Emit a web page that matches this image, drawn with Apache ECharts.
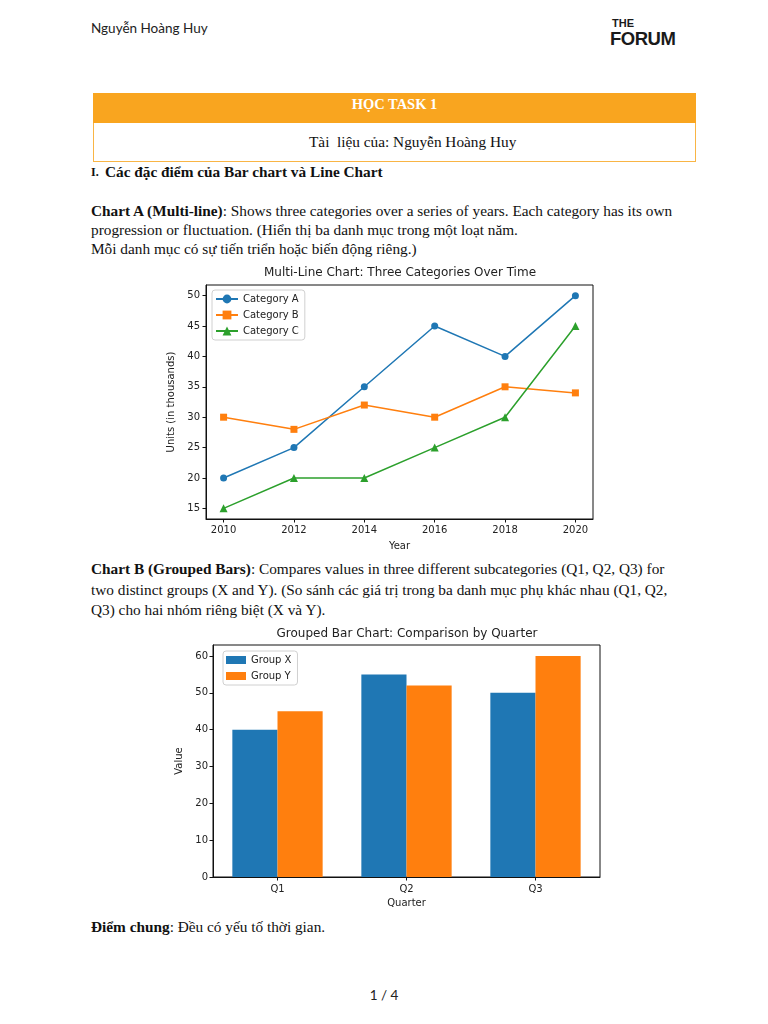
<!DOCTYPE html>
<html><head><meta charset="utf-8">
<script src="https://cdn.jsdelivr.net/npm/echarts@6/dist/echarts.min.js"></script>
<style>
body{margin:0;width:768px;height:1024px;background:#fff;position:relative;overflow:hidden}
.t{position:absolute;white-space:nowrap;font-family:"Liberation Serif","Times New Roman",serif;font-size:15.3px;line-height:20px;color:#111}
.c{position:absolute}
</style></head><body>
<div class="t" style="left:91px;top:18px;font-family:Lato,'Liberation Sans',sans-serif;font-size:13.5px;color:#222">Nguyễn Hoàng Huy</div>
<div class="t" style="left:612px;top:16px;font-family:'Liberation Sans',sans-serif;font-weight:bold;font-size:11px;line-height:14px;color:#1a1a1a">THE</div>
<div class="t" style="left:610px;top:28px;font-family:'Liberation Sans',sans-serif;font-weight:900;font-size:18.5px;line-height:22px;letter-spacing:-0.5px;color:#1a1a1a">FORUM</div>
<div style="position:absolute;left:93px;top:93px;width:603px;height:30px;background:#F9A51F"></div>
<div style="position:absolute;left:93px;top:123px;width:603px;height:39px;box-sizing:border-box;border:1px solid #F9B545;border-top:none"></div>
<div class="t" style="left:93px;width:603px;text-align:center;top:94px;color:#fff;font-weight:bold;font-size:14.5px">HỌC TASK 1</div>
<div class="t" style="left:309px;top:132px">Tài&nbsp; liệu của: Nguyễn Hoàng Huy</div>
<div class="t" style="left:91px;top:162px;font-weight:bold;font-size:12px">I.</div>
<div class="t" style="left:105px;top:162px;font-weight:bold">Các đặc điểm của Bar chart và Line Chart</div>
<div class="t" style="left:91px;top:201px"><b>Chart A (Multi-line)</b>: Shows three categories over a series of years. Each category has its own</div>
<div class="t" style="left:91px;top:220px">progression or fluctuation. (Hiển thị ba danh mục trong một loạt năm.</div>
<div class="t" style="left:91px;top:239px">Mỗi danh mục có sự tiến triển hoặc biến động riêng.)</div>
<div class="t" style="left:91px;top:559px"><b>Chart B (Grouped Bars)</b>: Compares values in three different subcategories (Q1, Q2, Q3) for</div>
<div class="t" style="left:91px;top:580px">two distinct groups (X and Y). (So sánh các giá trị trong ba danh mục phụ khác nhau (Q1, Q2,</div>
<div class="t" style="left:91px;top:600px">Q3) cho hai nhóm riêng biệt (X và Y).</div>
<div class="t" style="left:91px;top:917px"><b>Điểm chung</b>: Đều có yếu tố thời gian.</div>
<div class="t" style="left:0;width:768px;text-align:center;top:985px;font-family:Lato,'Liberation Sans',sans-serif;font-size:13.5px;color:#222">1 / 4</div>
<div id="chartA" class="c" style="left:150px;top:260px;width:500px;height:300px"></div>
<div id="chartB" class="c" style="left:157px;top:620px;width:500px;height:300px"></div>
<script>
const years = [2010, 2012, 2014, 2016, 2018, 2020];
const categoryA = [20, 25, 35, 45, 40, 50];
const categoryB = [30, 28, 32, 30, 35, 34];
const categoryC = [15, 20, 20, 25, 30, 45];
const yTicksA = [15, 20, 25, 30, 35, 40, 45, 50];

const quarters = ['Q1', 'Q2', 'Q3'];
const groupX = [40, 55, 50];
const groupY = [45, 52, 60];
const yTicksB = [0, 10, 20, 30, 40, 50, 60];

const FONT = 'DejaVu Sans';
const TXT = '#222';
const axisLine = { show: true, lineStyle: { color: '#111', width: 1 } };
const tick = (vals) => ({ show: true, length: 3.5, lineStyle: { color: '#111' }, customValues: vals });
const lbl = (vals, m) => ({ fontFamily: FONT, fontSize: 10, color: TXT, margin: m, customValues: vals,
  formatter: (v) => String(v) });
const legendBase = {
  orient: 'vertical', backgroundColor: 'rgba(255,255,255,0.9)', borderColor: '#d0d0d0',
  borderWidth: 1, borderRadius: 3, itemGap: 5,
  textStyle: { fontFamily: FONT, fontSize: 10, color: TXT }
};

const chartA = echarts.init(document.getElementById('chartA'), null, { renderer: 'canvas' });
const pts = (arr) => years.map((y, i) => [y, arr[i]]);
chartA.setOption({
  animation: false,
  title: { text: 'Multi-Line Chart: Three Categories Over Time', left: 'center', top: 7, padding: 0,
    textStyle: { fontFamily: FONT, fontSize: 12, fontWeight: 'normal', color: TXT } },
  grid: { left: 56, top: 25, width: 387, height: 234, show: true, borderColor: '#111', borderWidth: 1 },
  xAxis: { type: 'value', min: 2009.5, max: 2020.5, axisLine, axisTick: tick(years),
    axisLabel: lbl(years, 6), splitLine: { show: false },
    name: 'Year', nameLocation: 'middle', nameGap: 22,
    nameTextStyle: { fontFamily: FONT, fontSize: 10, color: TXT } },
  yAxis: { type: 'value', min: 13.25, max: 51.75, axisLine, axisTick: tick(yTicksA),
    axisLabel: lbl(yTicksA, 6), splitLine: { show: false },
    name: 'Units (in thousands)', nameLocation: 'middle', nameGap: 25, nameRotate: 90,
    nameTextStyle: { fontFamily: FONT, fontSize: 10, color: TXT } },
  legend: Object.assign({}, legendBase, { left: 62, top: 30, padding: [4, 6, 4, 3],
    itemWidth: 22, itemHeight: 11, itemGap: 6,
    data: ['Category A', 'Category B', 'Category C'] }),
  series: [
    { name: 'Category A', type: 'line', data: pts(categoryA), symbol: 'circle', symbolSize: 7,
      color: '#1f77b4', lineStyle: { width: 1.5 } },
    { name: 'Category B', type: 'line', data: pts(categoryB), symbol: 'rect', symbolSize: 7,
      color: '#ff7f0e', lineStyle: { width: 1.5 } },
    { name: 'Category C', type: 'line', data: pts(categoryC), symbol: 'triangle', symbolSize: 8,
      color: '#2ca02c', lineStyle: { width: 1.5 } }
  ]
});

const chartB = echarts.init(document.getElementById('chartB'), null, { renderer: 'canvas' });
chartB.setOption({
  animation: false,
  title: { text: 'Grouped Bar Chart: Comparison by Quarter', left: 'center', top: 8, padding: 0,
    textStyle: { fontFamily: FONT, fontSize: 12, fontWeight: 'normal', color: TXT } },
  grid: { left: 56, top: 25, width: 387, height: 232, show: true, borderColor: '#111', borderWidth: 1 },
  xAxis: { type: 'category', data: quarters, axisLine,
    axisTick: { show: true, alignWithLabel: true, length: 3.5, lineStyle: { color: '#111' } },
    axisLabel: { fontFamily: FONT, fontSize: 10, color: TXT, margin: 7 },
    name: 'Quarter', nameLocation: 'middle', nameGap: 20,
    nameTextStyle: { fontFamily: FONT, fontSize: 10, color: TXT } },
  yAxis: { type: 'value', min: 0, max: 63, axisLine, axisTick: tick(yTicksB),
    axisLabel: lbl(yTicksB, 5), splitLine: { show: false },
    name: 'Value', nameLocation: 'middle', nameGap: 22, nameRotate: 90,
    nameTextStyle: { fontFamily: FONT, fontSize: 10, color: TXT } },
  legend: Object.assign({}, legendBase, { left: 66, top: 31, padding: [4, 6, 4, 3],
    itemWidth: 20, itemHeight: 8, itemGap: 6, icon: 'rect',
    data: ['Group X', 'Group Y'] }),
  series: [
    { name: 'Group X', type: 'bar', data: groupX, barWidth: '35%', barGap: '0%', color: '#1f77b4' },
    { name: 'Group Y', type: 'bar', data: groupY, barWidth: '35%', barGap: '0%', color: '#ff7f0e' }
  ]
});
</script>
</body></html>
